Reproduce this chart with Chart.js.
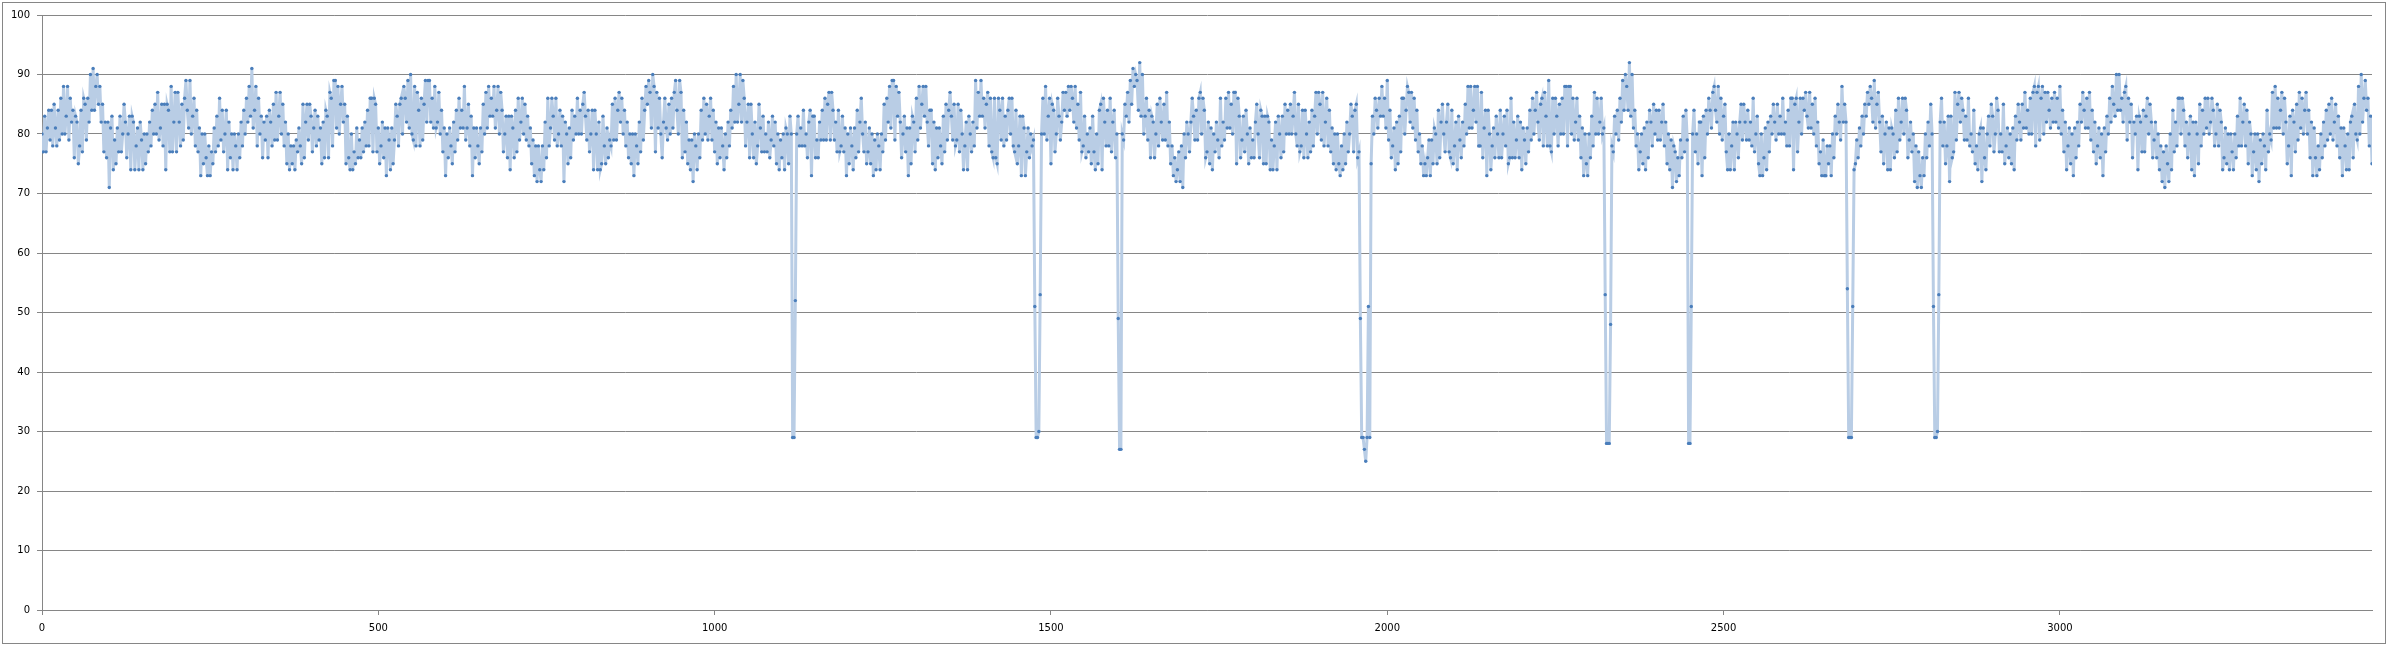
<!DOCTYPE html>
<html>
<head>
<meta charset="utf-8">
<title>Readings</title>
<script src="https://cdn.jsdelivr.net/npm/chart.js@4.4.0/dist/chart.umd.min.js"></script>
<style>
  html, body { margin: 0; padding: 0; background: #ffffff; }
  #wrap { width: 2388px; height: 646px; }
</style>
</head>
<body>
<div id="wrap"><canvas id="lineChart" width="2388" height="646"></canvas></div>
<script>
// readings are taken every 4 samples, with a second reading half way between
const sampleStep = 4;
const lastSample = 3464;
const xTickLabels = [0, 500, 1000, 1500, 2000, 2500, 3000];
const yTickLabels = [0, 10, 20, 30, 40, 50, 60, 70, 80, 90, 100];

// first sample of each stretch
const stretchStarts = [0, 340, 684, 1028, 1372, 1716, 2060, 2404, 2748, 3088];

// readings on the step
const values0000 = [80,83,81,79,78,81,84,86,88,83, 79,82,76,82,78,77,85,86,90,91, 88,85,82,77,76,71,83,79,81,83, 80,82,80,74,82,78,74,79,80,80, 82,84,85,87,81,78,74,84,88,82, 77,82,85,86,84,89,83,78,77,73, 75,76,78,77,81,83,86,84,80,74, 76,74,78,80,82,84,86,88,91,84, 78,80,76,79,76];
const values0340 = [82,85,87,83,80,78,75,74,75,74, 77,78,85,82,79,83,81,78,79,75, 76,83,87,78,89,88,85,82,75,76, 80,77,81,79,81,82,84,86,77,85, 81,78,76,73,79,81,79,83,85,80, 86,89,90,79,78,84,86,85,82,89, 86,88,82,80,77,73,76,78,82,84, 86,84,88,81,78,73,76,78,81,85, 87,88,86,88,84,80];
const values0684 = [84,80,76,74,81,84,86,82,80,79, 78,75,73,72,74,78,82,86,81,83, 86,80,78,72,80,81,84,83,86,84, 85,83,84,80,74,80,82,75,78,81, 79,85,86,84,82,80,78,76,75,73, 78,82,86,84,85,87,90,77,81,80, 82,81,85,86,87,84,89,76,77,75, 74,72,78,80,84,86,85,83,79,77, 75,76,78,80,82,84];
const values1028 = [88,90,85,82,86,82,76,80,82,78, 81,83,80,82,79,78,75,74,76,74, 80,83,29,52,83,81,84,80,82,73, 83,79,82,84,86,85,79,84,82,84, 78,77,73,75,78,81,84,82,80,82, 77,75,73,74,78,80,85,86,88,89, 79,83,82,80,77,73,75,82,86,88, 85,83,82,84,75,74,76,78,83,85, 84,83,85,79,77,80];
const values1372 = [78,74,80,82,89,87,89,86,85,78, 77,86,75,84,86,83,84,80,78,84, 78,73,81,77,76,78,51,29,53,86, 88,83,75,84,80,83,82,84,83,84, 86,88,85,87,78,76,77,75,77,80, 84,74,82,84,86,82,76,49,27,79, 83,82,85,88,89,92,90,83,79,76, 82,80,78,82,85,87,82,78,76,74, 72,71,76,80,82,83];
const values1716 = [84,86,80,84,77,75,74,77,79,86, 82,86,87,85,87,75,83,79,77,80, 81,79,82,80,84,75,75,82,79,78, 74,80,83,85,84,85,83,80,85,78, 76,80,82,84,83,80,85,87,82,78, 77,75,74,75,78,80,82,80,83,84, 76,49,29,25,51,75,80,84,86,88, 86,89,84,78,74,75,77,86,84,87, 87,86,84,80,78,75];
const values2060 = [76,73,75,80,84,82,80,82,77,84, 78,74,79,82,85,88,88,84,82,78, 87,81,73,80,78,76,80,84,80,78, 75,86,82,79,76,74,79,81,84,86, 84,82,85,78,83,89,77,80,83,85, 86,88,78,88,86,82,79,76,73,75, 80,83,87,86,82,80,53,28,48,77, 80,79,82,84,88,92,90,84,80,77, 75,74,76,82,85,84];
const values2404 = [84,82,78,75,74,71,77,76,79,83, 84,28,51,84,80,82,73,76,80,84, 87,84,88,86,83,77,80,78,74,80, 82,79,82,84,82,86,80,75,80,76, 74,77,80,82,85,83,86,82,84,86, 74,86,82,80,84,83,87,85,86,82, 77,79,73,75,73,76,80,82,88,85, 54,29,51,75,76,78,80,83,85,86, 89,85,82,83,80,74];
const values2748 = [74,80,84,86,82,80,84,79,77,72, 71,73,76,80,82,85,51,29,53,86, 82,78,72,76,87,85,82,84,83,86, 80,84,78,80,72,76,80,78,83,80, 84,80,85,78,76,75,74,79,82,85, 87,84,86,87,78,88,86,80,82,84, 86,87,86,88,84,82,78,75,73,76, 78,82,84,86,87,84,82,78,76,73, 77,80,82,85,90];
const values3088 = [90,86,87,79,82,76,80,74,82,84, 83,80,82,79,76,74,72,71,75,80, 84,82,86,80,84,82,80,74,73,80, 85,84,86,86,82,84,80,78,82,76, 75,74,77,80,83,86,82,78,75,80, 77,74,72,75,78,84,80,87,88,86, 84,80,82,78,73,82,85,87,86,84, 80,76,73,76,78,80,82,84,85,86, 82,78,76,73,78,80,82,76,80,88, 90,86,84,78,75];

// readings half way between two steps: the other edge of the band
const between0000 = [77,77,84,84,85,78,79,80,80,88, 86,84,83,75,84,86,79,82,84,84, 90,88,85,82,82,81,74,75,77,77, 85,76,83,83,74,81,82,74,75,77, 78,80,80,79,85,85,85,77,77,87, 87,78,79,89,81,80,86,84,81,80, 80,73,73,75,77,78,79,77,84,82, 80,80,74,76,78,80,82,83,81,88, 86,83,82,83,84];
const between0340 = [78,79,79,87,85,82,80,78,78,79, 81,75,76,85,85,77,84,83,81,82, 84,76,86,89,81,80,88,85,83,74, 74,75,76,76,77,78,78,86,86,77, 75,82,81,81,74,75,85,78,86,88, 82,81,80,88,87,78,79,89,89,82, 81,81,87,84,81,80,81,75,77,79, 81,81,79,85,83,81,81,75,77,80, 81,83,83,81,88,87];
const between0684 = [77,83,83,83,76,77,79,86,85,83, 81,79,78,78,72,74,76,78,86,79, 78,84,83,82,75,76,79,80,80,80, 87,79,77,84,84,74,74,83,75,76, 78,79,79,87,86,84,82,80,80,80, 75,77,79,88,89,81,88,87,86,76, 86,79,80,81,89,80,87,84,82,79, 79,80,74,76,79,80,79,86,84,82, 81,81,74,76,78,81];
const between1028 = [82,82,90,89,78,85,85,76,75,85, 77,77,77,76,83,82,80,79,80,81, 75,80,29,80,78,78,78,76,84,83, 76,76,79,79,79,87,87,79,77,77, 83,81,80,81,74,76,77,86,77,75, 81,80,79,80,74,77,79,82,81,89, 88,87,76,83,81,81,83,77,79,81, 88,88,78,84,82,81,81,75,77,79, 87,79,78,85,84,74];
const between1372 = [82,83,77,78,81,83,83,81,87,86, 76,76,86,79,78,79,86,86,77,75, 83,83,73,81,80,79,29,30,80,80, 79,86,85,77,86,79,87,87,88,88, 82,81,79,77,83,80,81,83,74,75, 85,86,78,78,77,84,80,27,80,85, 87,89,91,90,84,83,80,86,84,83, 76,85,86,79,79,78,75,73,72,77, 78,80,82,77,86,79];
const between1716 = [79,87,86,76,82,81,80,82,76,78, 79,81,81,80,87,86,76,83,84,75, 76,76,85,76,83,83,83,74,74,82, 83,76,77,80,80,80,87,78,77,84, 84,76,77,78,87,87,79,78,86,84, 81,80,80,73,74,75,77,85,77,85, 77,29,27,29,29,83,86,81,83,83, 81,79,76,81,82,83,86,80,88,82, 81,79,77,75,73,73];
const between2060 = [79,79,81,75,76,85,77,85,76,75, 82,83,76,78,80,81,81,88,88,78, 76,84,84,74,81,83,76,76,83,84, 76,76,76,83,82,81,75,77,79,80, 87,79,86,87,78,78,86,86,78,80, 80,88,88,80,79,86,83,81,80,73, 76,78,80,80,86,81,28,28,78,83, 84,86,89,90,84,83,81,78,74,80, 81,82,84,78,80,79];
const between2404 = [79,85,82,80,79,78,72,73,76,77, 79,28,80,77,75,82,83,84,86,81, 88,82,80,79,85,74,74,82,82,76, 85,85,79,79,78,77,83,73,73,81, 82,83,85,79,80,80,80,78,78,86, 85,77,86,86,87,81,81,80,78,75, 73,73,78,78,80,83,85,79,82,82, 29,29,74,79,81,83,85,87,88,82, 81,87,77,75,82,81];
const between2748 = [81,76,77,79,86,86,76,82,80,78, 77,71,73,76,78,80,29,30,82,78, 75,83,83,77,79,87,86,79,79,78, 77,75,74,81,81,74,83,85,77,86, 77,77,75,81,80,81,83,85,79,81, 81,80,80,88,87,79,88,87,87,81, 82,82,81,80,77,74,81,80,81,82, 85,87,81,81,79,77,75,81,80,81, 83,86,88,83,84];
const between3088 = [84,82,88,86,85,82,83,83,77,77, 86,85,76,82,80,78,77,78,72,74, 77,78,86,86,78,76,83,82,82,75, 78,80,81,80,86,78,85,84,74,81, 80,80,74,76,78,78,85,84,82,73, 80,80,79,80,74,77,79,81,81,81, 87,86,75,83,84,77,79,81,80,87, 84,82,81,73,74,76,78,79,80,79, 85,83,81,81,74,74,83,85,79,80, 82,89,86,83];

const onStep = [values0000, values0340, values0684, values1028, values1372,
  values1716, values2060, values2404, values2748, values3088];
const halfWay = [between0000, between0340, between0684, between1028, between1372,
  between1716, between2060, between2404, between2748, between3088];

const points = [];
stretchStarts.forEach(function (start, s) {
  onStep[s].forEach(function (v, k) {
    const x = start + k * sampleStep;
    points.push({ x: x, y: v });
    if (halfWay[s][k] !== undefined) {
      points.push({ x: x + sampleStep / 2, y: halfWay[s][k] });
    }
  });
});

const axisGrey = "#868686";

// white page and the grey frame round the whole chart
const framePlugin = {
  id: "frame",
  beforeDraw: function (chart) {
    const ctx = chart.ctx;
    ctx.save();
    ctx.fillStyle = "#ffffff";
    ctx.fillRect(0, 0, chart.width, chart.height);
    ctx.restore();
  },
  afterDraw: function (chart) {
    const ctx = chart.ctx;
    ctx.save();
    ctx.strokeStyle = axisGrey;
    ctx.lineWidth = 1;
    ctx.strokeRect(2.5, 2.5, chart.width - 5, chart.height - 5);
    ctx.restore();
  },
};

Chart.defaults.font.family = "'DejaVu Sans', Verdana, sans-serif";
Chart.defaults.font.size = 10;
Chart.defaults.color = "#000000";

new Chart(document.getElementById("lineChart"), {
  type: "line",
  data: {
    datasets: [
      {
        data: points,
        borderColor: "#b9cde5",
        borderWidth: 3,
        tension: 0,
        pointStyle: "circle",
        pointRadius: 1.7,
        pointBorderWidth: 0,
        pointBackgroundColor: "#4a7ebb",
      },
    ],
  },
  options: {
    responsive: false,
    animation: false,
    events: [],
    layout: { padding: { left: 0, right: 16, top: 15, bottom: 0 } },
    plugins: {
      legend: { display: false },
      tooltip: { enabled: false },
    },
    scales: {
      x: {
        type: "linear",
        min: 0,
        max: lastSample,
        afterBuildTicks: function (axis) {
          axis.ticks = xTickLabels.map(function (v) { return { value: v }; });
        },
        afterFit: function (axis) {
          axis.height = 36;
        },
        ticks: {
          padding: 7,
          maxRotation: 0,
          autoSkip: false,
          callback: function (v) { return String(v); },
        },
        grid: { drawOnChartArea: false, drawTicks: true, tickLength: 5, color: axisGrey },
        border: { color: axisGrey },
      },
      y: {
        min: 0,
        max: 100,
        afterBuildTicks: function (axis) {
          axis.ticks = yTickLabels.map(function (v) { return { value: v }; });
        },
        afterFit: function (axis) {
          axis.width = 42;
        },
        ticks: { padding: 7 },
        grid: { color: axisGrey, tickLength: 5 },
        border: { color: axisGrey },
      },
    },
  },
  plugins: [framePlugin],
});
</script>
</body>
</html>
